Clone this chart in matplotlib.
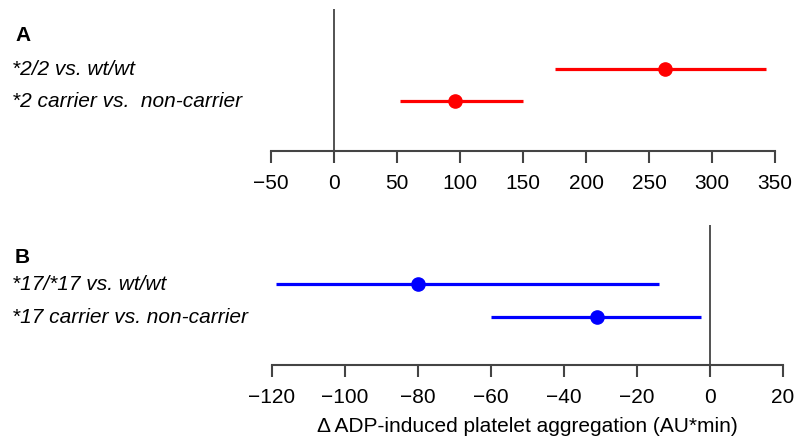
import numpy as np
import matplotlib
matplotlib.use("Agg")
import matplotlib.pyplot as plt
from matplotlib.transforms import blended_transform_factory

plt.rcParams['font.family'] = ['Liberation Sans', 'DejaVu Sans']

# CYP2C19 *2 genotype effects
a_labels = ['*2/2 vs. wt/wt', '*2 carrier vs.  non-carrier']
a_est = [263, 96]
a_lo = [175, 52]
a_hi = [343, 150]
a_ticks = [-50, 0, 50, 100, 150, 200, 250, 300, 350]

# CYP2C19 *17 genotype effects
b_labels = ['*17/*17 vs. wt/wt', '*17 carrier vs. non-carrier']
b_est = [-80, -31]
b_lo = [-119, -60]
b_hi = [-14, -2.5]
b_ticks = [-120, -100, -80, -60, -40, -20, 0, 20]

W, H = 797, 438
FS = 15
fig = plt.figure(figsize=(W / 100, H / 100), dpi=100)

def px_axes(left, right, top, bottom):
    return fig.add_axes([left / W, 1 - bottom / H, (right - left) / W, (bottom - top) / H])

def forest(ax, panel, labels, est, lo, hi, ticks, color, ylim, title_off):
    rows = np.arange(len(labels))
    ax.hlines(rows, lo, hi, color=color, lw=2.3)
    ax.plot(est, rows, 'o', color=color, ms=9.5)
    ax.axvline(0, color='#444444', lw=1.3)
    ax.set_xlim(ticks[0], ticks[-1])
    ax.set_ylim(*ylim)
    ax.set_xticks(ticks)
    ax.set_yticks([])
    for s in ['top', 'right', 'left']:
        ax.spines[s].set_visible(False)
    ax.spines['bottom'].set_color('#444444')
    ax.spines['bottom'].set_linewidth(1.5)
    ax.tick_params(axis='x', direction='out', length=8.5, width=1.5, color='#444444',
                   labelsize=FS, pad=8)
    tr = blended_transform_factory(fig.transFigure, ax.transData)
    for r, lab in zip(rows, labels):
        ax.text(12 / W, r, lab, transform=tr, ha='left', va='center',
                fontsize=FS, style='italic', clip_on=False)
    ax.text(15 / W, rows[0] - title_off, panel, transform=tr, ha='left', va='center',
            fontsize=FS, fontweight='bold', clip_on=False)

ax_a = px_axes(271, 775, 9, 151)
forest(ax_a, 'A', a_labels, a_est, a_lo, a_hi, a_ticks, '#ff0000', (2.56, -1.88), 1.06)

ax_b = px_axes(272, 783, 225, 365)
forest(ax_b, 'B', b_labels, b_est, b_lo, b_hi, b_ticks, '#0000ff', (2.45, -1.79), 0.8)
ax_b.set_xlabel('Δ ADP-induced platelet aggregation (AU*min)', fontsize=FS, labelpad=7)

fig.savefig('out.png', dpi=100)
